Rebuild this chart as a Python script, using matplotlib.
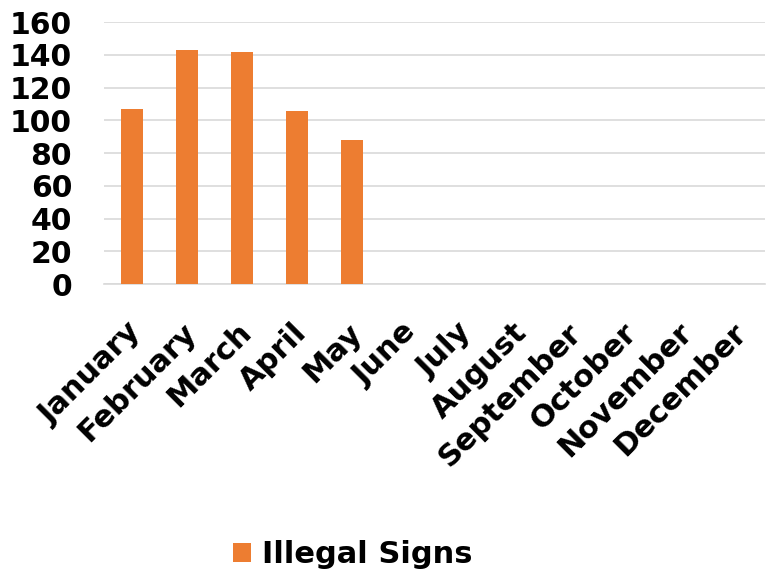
import matplotlib
matplotlib.use("Agg")
import matplotlib.pyplot as plt
import matplotlib.transforms as mtransforms
import numpy as np

months = ["January", "February", "March", "April", "May", "June", "July",
          "August", "September", "October", "November", "December"]
illegal_signs = [107, 143, 142, 106, 88, 0, 0, 0, 0, 0, 0, 0]
y_ticks = [0, 20, 40, 60, 80, 100, 120, 140, 160]

plt.rcParams['font.family'] = ['DejaVu Sans']
plt.rcParams['font.weight'] = 'bold'

fig = plt.figure(figsize=(7.67, 5.75), dpi=100)
ax = fig.add_axes([0.1356, 0.5056, 0.8614, 0.4561])

x = np.arange(len(months))
ax.bar(x, illegal_signs, width=0.4, color='#ED7D31', label='Illegal Signs', zorder=3)

ax.set_xlim(-0.5, len(months) - 0.5)
ax.set_ylim(0, 160)
ax.set_yticks(y_ticks)
ax.set_yticklabels([str(v) for v in y_ticks], fontsize=21.5, fontweight='bold')
ax.yaxis.grid(True, color='#d9d9d9', linewidth=1.2, zorder=0)
ax.set_axisbelow(True)
for s in ['top', 'right', 'left']:
    ax.spines[s].set_visible(False)
ax.spines['bottom'].set_color('#d9d9d9')
ax.spines['bottom'].set_linewidth(1.2)
ax.tick_params(axis='both', length=0)
ax.tick_params(axis='y', pad=23)

ax.set_xticks(x)
ax.set_xticklabels(months, rotation=45, ha='right', va='top',
                   rotation_mode='anchor', fontsize=22, fontweight='bold')
ax.tick_params(axis='x', pad=24)
offset = mtransforms.ScaledTranslation(-5 / 100, 0, fig.dpi_scale_trans)
for lbl in ax.get_xticklabels():
    lbl.set_transform(lbl.get_transform() + offset)

fig.legend(loc='center', bbox_to_anchor=(0.46, 0.035), frameon=False,
           prop={'size': 22, 'weight': 'bold'}, handlelength=0.6,
           handleheight=0.6, handletextpad=0.35)

fig.savefig('out.png', dpi=100)
